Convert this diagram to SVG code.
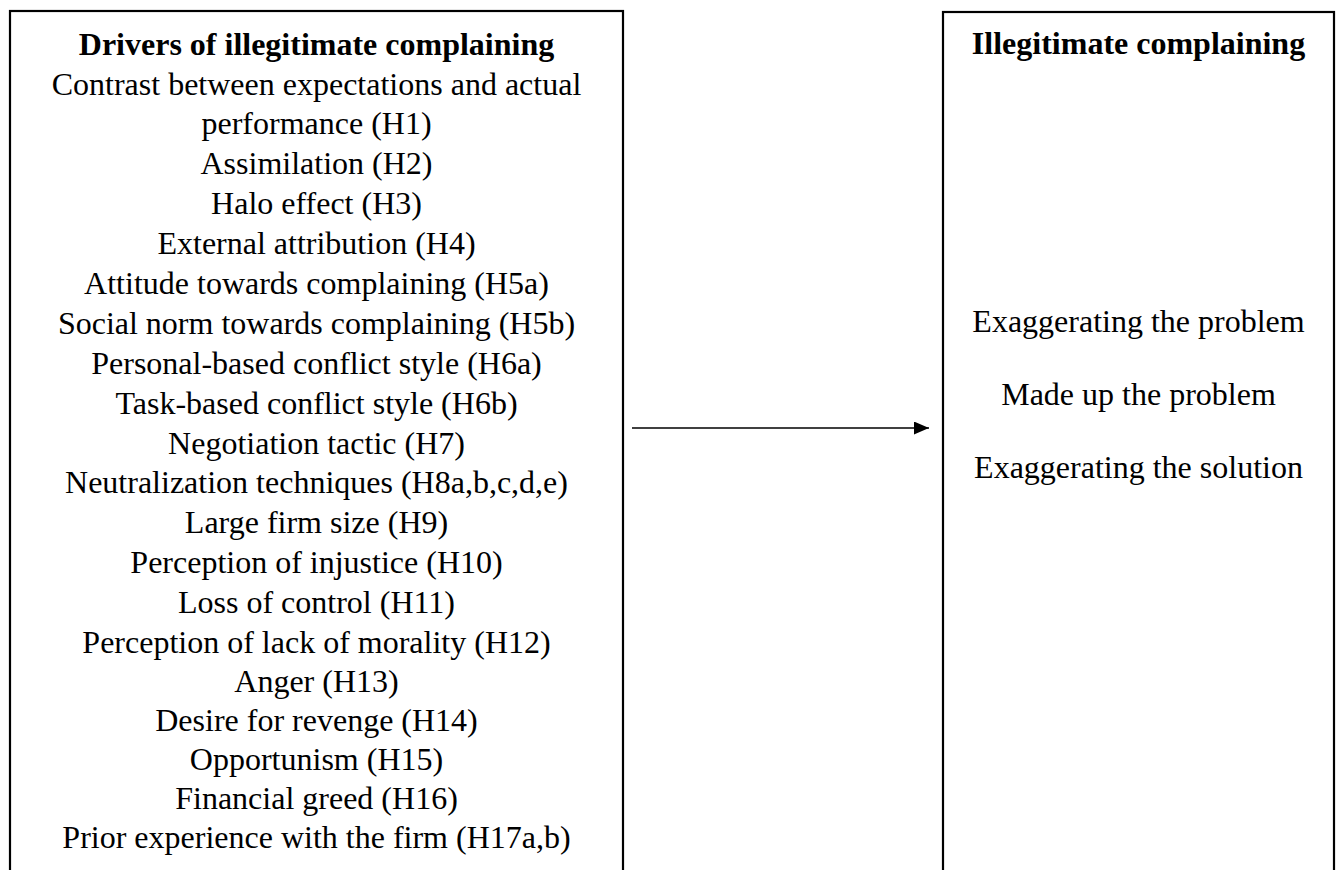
<svg xmlns="http://www.w3.org/2000/svg" width="1341" height="870" viewBox="0 0 1341 870">
<defs>
<style>
.box{fill:#fff;stroke:#000;stroke-width:2.2}
.t{font-family:"Liberation Serif","Times New Roman",serif;font-size:32px;fill:#000;text-anchor:middle}
.b{font-weight:bold}
.conn{stroke:#000;stroke-width:1.4;fill:none}
</style>
<marker id="ah" markerWidth="15" markerHeight="13" refX="15" refY="6.5" orient="auto" markerUnits="userSpaceOnUse">
<path d="M0,0 L15,6.5 L0,13 Z" fill="#000"/>
</marker>
</defs>
<rect x="0" y="0" width="1341" height="870" fill="#fff"/>
<g id="drivers">
<rect class="box" x="10" y="11" width="613" height="880"/>
<text class="t b" x="316.5" y="55">Drivers of illegitimate complaining</text>
<text class="t" x="316.5" y="95">Contrast between expectations and actual</text>
<text class="t" x="316.5" y="134">performance (H1)</text>
<text class="t" x="316.5" y="174">Assimilation (H2)</text>
<text class="t" x="316.5" y="214">Halo effect (H3)</text>
<text class="t" x="316.5" y="254">External attribution (H4)</text>
<text class="t" x="316.5" y="294">Attitude towards complaining (H5a)</text>
<text class="t" x="316.5" y="334">Social norm towards complaining (H5b)</text>
<text class="t" x="316.5" y="374">Personal-based conflict style (H6a)</text>
<text class="t" x="316.5" y="414">Task-based conflict style (H6b)</text>
<text class="t" x="316.5" y="454">Negotiation tactic (H7)</text>
<text class="t" x="316.5" y="493">Neutralization techniques (H8a,b,c,d,e)</text>
<text class="t" x="316.5" y="533">Large firm size (H9)</text>
<text class="t" x="316.5" y="573">Perception of injustice (H10)</text>
<text class="t" x="316.5" y="613">Loss of control (H11)</text>
<text class="t" x="316.5" y="653">Perception of lack of morality (H12)</text>
<text class="t" x="316.5" y="692">Anger (H13)</text>
<text class="t" x="316.5" y="731">Desire for revenge (H14)</text>
<text class="t" x="316.5" y="770">Opportunism (H15)</text>
<text class="t" x="316.5" y="809">Financial greed (H16)</text>
<text class="t" x="316.5" y="848">Prior experience with the firm (H17a,b)</text>
</g>
<g id="outcome">
<rect class="box" x="943" y="12" width="391" height="880"/>
<text class="t b" x="1138.5" y="54">Illegitimate complaining</text>
<text class="t" x="1138.5" y="332">Exaggerating the problem</text>
<text class="t" x="1138.5" y="405">Made up the problem</text>
<text class="t" x="1138.5" y="478">Exaggerating the solution</text>
</g>
<g id="connectors">
<line class="conn" x1="632" y1="428" x2="929" y2="428" marker-end="url(#ah)"/>
</g>
</svg>
